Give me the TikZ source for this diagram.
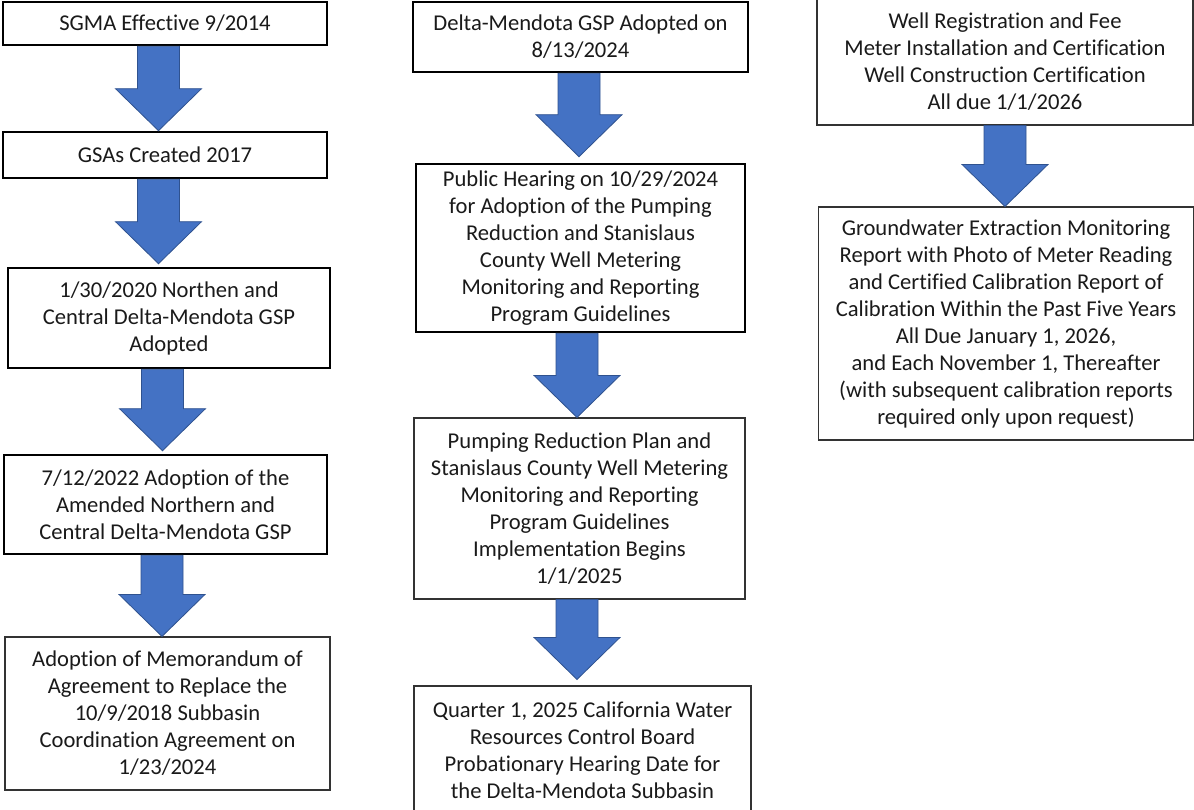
\documentclass[tikz,border=0pt]{standalone}
\usepackage{fontspec}
\setmainfont{Carlito}[Ligatures=NoCommon]
\usetikzlibrary{calc}
\definecolor{arrowfill}{HTML}{4472C4}
\definecolor{arrowedge}{HTML}{2F528F}
\definecolor{txt}{HTML}{1A1A1A}
\tikzset{
  box/.style={rectangle, align=center, text=txt, inner sep=0pt,
    font=\fontsize{22.6}{27}\selectfont},
  thickbox/.style={box, draw=black, line width=2.6pt},
  thinbox/.style={box, draw=black!80, line width=1.1pt},
  blockarrow/.style={fill=arrowfill, draw=arrowedge, line width=0.8pt, line join=miter}
}
\newcommand\blockarr[4]{%
  \path[blockarrow] let \p1=(#1.south), \p2=(#2.north) in
    ({#3pt-21pt},\y1) -- ({#3pt+21pt},\y1) -- ({#3pt+21pt},{\y2+#4pt+42pt})
    -- ({#3pt+43pt},{\y2+#4pt+42pt}) -- ({#3pt},{\y2+#4pt})
    -- ({#3pt-43pt},{\y2+#4pt+42pt}) -- ({#3pt-21pt},{\y2+#4pt+42pt}) -- cycle;}
\begin{document}
\begin{tikzpicture}[x=1pt,y=-1pt]
\useasboundingbox (0,0) rectangle (1194,810);
\clip (0,0) rectangle (1194,810);
\fill[white] (0,0) rectangle (1194,810);
% left column
\node[thickbox, minimum width=324, minimum height=43] (b1) at (165,23.5) {SGMA Effective 9/2014};
\node[thickbox, minimum width=324, minimum height=46] (b2) at (165,155) {GSAs Created 2017};
\node[thickbox, minimum width=322, minimum height=100] (b3) at (169,318) {1/30/2020 Northen and\\Central Delta-Mendota GSP\\Adopted};
\node[thickbox, minimum width=323, minimum height=99] (b4) at (165.5,504.5) {7/12/2022 Adoption of the\\Amended Northern and\\Central Delta-Mendota GSP};
\node[thinbox, minimum width=325, minimum height=153] (b5) at (167.5,713.5) {Adoption of Memorandum of\\Agreement to Replace the\\10/9/2018 Subbasin\\Coordination Agreement on\\1/23/2024};
% middle column
\node[thickbox, minimum width=335, minimum height=70] (m1) at (580.5,37) {Delta-Mendota GSP Adopted on\\8/13/2024};
\node[thickbox, minimum width=329, minimum height=168] (m2) at (580.5,248) {Public Hearing on 10/29/2024\\for Adoption of the Pumping\\Reduction and Stanislaus\\County Well Metering\\Monitoring and Reporting\\Program Guidelines};
\node[thinbox, minimum width=331, minimum height=181] (m3) at (579.5,508.5) {Pumping Reduction Plan and\\Stanislaus County Well Metering\\Monitoring and Reporting\\Program Guidelines\\Implementation Begins\\1/1/2025};
\node[thinbox, minimum width=337, minimum height=129] (m4) at (582.5,750.5) {Quarter 1, 2025 California Water\\Resources Control Board\\Probationary Hearing Date for\\the Delta-Mendota Subbasin};
% right column
\node[thinbox, minimum width=376, minimum height=126] (r1) at (1005,62) {Well Registration and Fee\\Meter Installation and Certification\\Well Construction Certification\\All due 1/1/2026};
\node[thinbox, minimum width=375, minimum height=233] (r2) at (1006,323.5) {Groundwater Extraction Monitoring\\Report with Photo of Meter Reading\\and Certified Calibration Report of\\Calibration Within the Past Five Years\\All Due January 1, 2026,\\and Each November 1, Thereafter\\(with subsequent calibration reports\\required only upon request)};
% arrows
\blockarr{b1}{b2}{158.5}{0}
\blockarr{b2}{b3}{158.5}{3}
\blockarr{b3}{b4}{162.5}{3}
\blockarr{b4}{b5}{162}{0}
\blockarr{m1}{m2}{579}{6}
\blockarr{m2}{m3}{577}{0}
\blockarr{m3}{m4}{577}{6}
\blockarr{r1}{r2}{1005}{0}
\end{tikzpicture}
\end{document}
